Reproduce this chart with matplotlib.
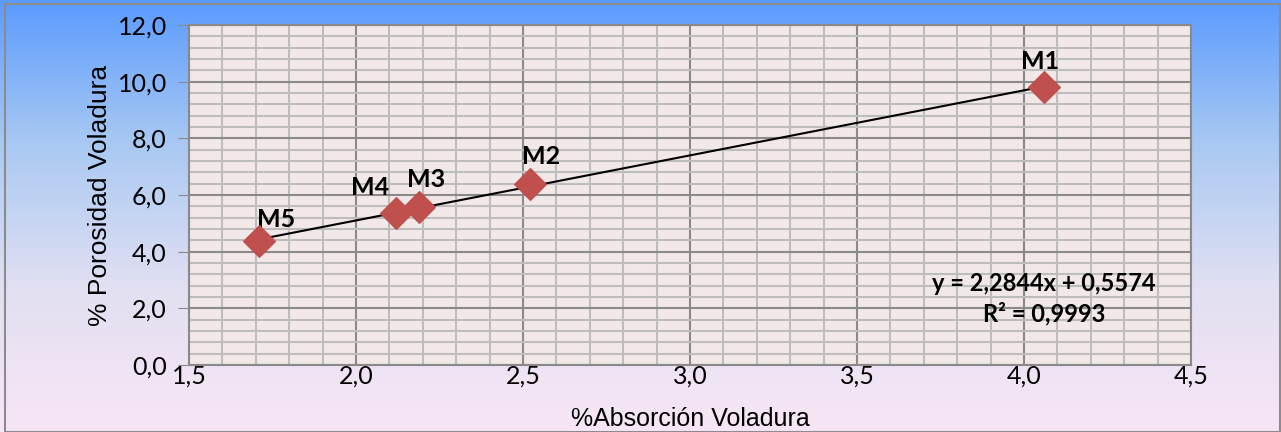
import numpy as np
import matplotlib
matplotlib.use("Agg")
import matplotlib.pyplot as plt
from matplotlib.ticker import MultipleLocator, FuncFormatter
from matplotlib.colors import LinearSegmentedColormap
from matplotlib.patches import Rectangle

# datos de las muestras
labels = ["M1", "M2", "M3", "M4", "M5"]
absorcion = [4.06, 2.52, 2.19, 2.12, 1.71]
porosidad = [9.80, 6.38, 5.57, 5.36, 4.37]
label_offsets = [(-3, 10), (8, 12), (5, 12), (-19, 10), (12, 7)]
ecuacion = "y = 2,2844x + 0,5574"
r2 = "R² = 0,9993"

plt.rcParams['font.family'] = ['Lato', 'DejaVu Sans']

fig = plt.figure(figsize=(12.81, 4.32), dpi=100)

# fondo degradado
bg = fig.add_axes([0, 0, 1, 1], zorder=-10)
cmap = LinearSegmentedColormap.from_list("bg", ["#5b9bff", "#a9c9f2", "#e2e0f2", "#f8e6f6"])
grad = np.linspace(0, 1, 256).reshape(-1, 1)
bg.imshow(grad, aspect='auto', cmap=cmap, extent=[0, 1, 0, 1])
bg.set_axis_off()
fig.patches.append(Rectangle((0.004, 0.0), 0.995, 0.99, transform=fig.transFigure,
                             fill=False, edgecolor="#8c8c8c", linewidth=1.5))

ax = fig.add_axes([189 / 1281, (432 - 365) / 432, (1191 - 189) / 1281, (365 - 25) / 432])
ax.set_facecolor("#f2e8e8")

ax.set_xlim(1.5, 4.5)
ax.set_ylim(0, 12)
ax.xaxis.set_major_locator(MultipleLocator(0.5))
ax.xaxis.set_minor_locator(MultipleLocator(0.1))
ax.yaxis.set_major_locator(MultipleLocator(2))
ax.yaxis.set_minor_locator(MultipleLocator(0.4))
fmt = FuncFormatter(lambda v, p: f"{v:.1f}".replace(".", ","))
ax.xaxis.set_major_formatter(fmt)
ax.yaxis.set_major_formatter(fmt)

ax.grid(which='minor', color="#bdbdbd", linewidth=1.5)
ax.grid(which='major', color="#8a8a8a", linewidth=1.5)
ax.set_axisbelow(True)
for s in ax.spines.values():
    s.set_color("#8a8a8a")
    s.set_linewidth(1.5)
ax.tick_params(which='minor', length=0)
ax.tick_params(which='major', length=8, color="#8a8a8a", labelsize=18, pad=8)
ax.tick_params(axis='x', which='major', length=0, pad=0)

# linea de tendencia
m, b = np.polyfit(absorcion, porosidad, 1)
xs = np.array([min(absorcion), max(absorcion)])
ax.plot(xs, m * xs + b, color="black", linewidth=1.5, zorder=3)

ax.scatter(absorcion, porosidad, marker='D', s=260, color="#c0504d", zorder=4)

for name, x, y, off in zip(labels, absorcion, porosidad, label_offsets):
    ax.annotate(name, (x, y), xytext=off, textcoords='offset points',
                fontsize=18, fontweight='bold', ha='center', va='bottom')

ax.text(4.06, 2.87, ecuacion, fontsize=17, fontweight='bold', ha='center', va='center')
ax.text(4.06, 1.81, r2, fontsize=17, fontweight='bold', ha='center', va='center')

ax.set_xlabel("%Absorción Voladura", fontsize=18, family=['Liberation Sans', 'DejaVu Sans'], labelpad=14)
ax.set_ylabel("% Porosidad Voladura", fontsize=19, family=['Liberation Sans', 'DejaVu Sans'], labelpad=4)

fig.savefig("out.png", dpi=100)
